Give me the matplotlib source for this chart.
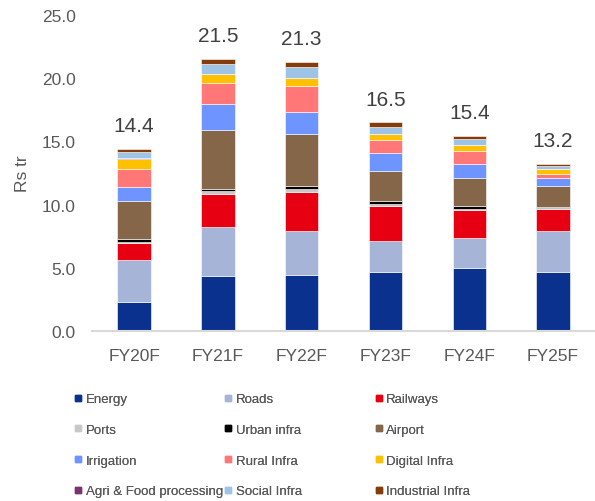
import matplotlib.pyplot as plt
import numpy as np
from matplotlib.lines import Line2D

plt.rcParams['font.family'] = ['Liberation Sans', 'DejaVu Sans']

# Investment by sector, Rs tr
years = ['FY20F', 'FY21F', 'FY22F', 'FY23F', 'FY24F', 'FY25F']
sectors = ['Energy', 'Roads', 'Railways', 'Ports', 'Urban infra', 'Airport',
           'Irrigation', 'Rural Infra', 'Digital Infra',
           'Agri & Food processing', 'Social Infra', 'Industrial Infra']

energy = [2.30, 4.35, 4.40, 4.65, 4.95, 4.65]
roads = [3.30, 3.85, 3.55, 2.50, 2.42, 3.30]
railways = [1.35, 2.65, 3.08, 2.77, 2.20, 1.68]
ports = [0.13, 0.20, 0.20, 0.12, 0.10, 0.13]
urban = [0.20, 0.18, 0.25, 0.24, 0.21, 0.03]
airport = [3.00, 4.65, 4.07, 2.35, 2.20, 1.65]
irrigation = [1.15, 2.05, 1.80, 1.42, 1.12, 0.68]
rural = [1.40, 1.70, 2.05, 1.08, 1.08, 0.27]
digital = [0.80, 0.67, 0.58, 0.43, 0.40, 0.40]
agri = [0.04, 0.05, 0.05, 0.04, 0.04, 0.03]
social = [0.53, 0.75, 0.82, 0.55, 0.44, 0.23]
industrial = [0.20, 0.40, 0.45, 0.35, 0.24, 0.15]

series = [energy, roads, railways, ports, urban, airport,
          irrigation, rural, digital, agri, social, industrial]
colors = ['#0B318F', '#A6B4D8', '#E60012', '#C8C8C8', '#000000', '#866649',
          '#6D94FF', '#FF7777', '#FFC000', '#7B3270', '#9DC3E6', '#843C0C']

fig = plt.figure(figsize=(5.95, 5.02), dpi=100)
ax = fig.add_axes([0.155, 0.3386, 0.845, 0.6295])

x = np.arange(len(years))
bottom = np.zeros(len(years))
for vals, c in zip(series, colors):
    vals = np.array(vals)
    ax.bar(x, vals, 0.4, bottom=bottom, color=c, edgecolor='white', linewidth=0.4)
    bottom += vals

# totals above each bar
for xi, tot in zip(x, bottom):
    ax.annotate(f'{tot:.1f}', (xi, tot), xytext=(0, 10), textcoords='offset points',
                ha='center', va='bottom', fontsize=15, color='#404040')

ax.set_xlim(-0.5, 5.5)
ax.set_ylim(0, 25)
ax.set_yticks(np.arange(0, 26, 5))
ax.set_yticklabels([f'{v:.1f}' for v in np.arange(0, 26, 5)])
ax.set_xticks(x)
ax.set_xticklabels(years)
ax.tick_params(length=0, labelsize=12.5, labelcolor='#595959')
ax.tick_params(axis='x', pad=12)
ax.tick_params(axis='y', pad=12)
for s in ['top', 'right', 'left']:
    ax.spines[s].set_visible(False)
ax.spines['bottom'].set_color('#D9D9D9')
ax.spines['bottom'].set_linewidth(1.5)
ax.set_ylabel('Rs tr', fontsize=12.5, color='#595959', labelpad=8)

# legend: three columns, laid out row by row
handles = [Line2D([], [], marker='s', linestyle='none', markersize=5,
                  markerfacecolor=c, markeredgecolor=c) for c in colors]
col_x = [0.125, 0.377, 0.63]
for j in range(3):
    idx = [j, j + 3, j + 6, j + 9]
    leg = fig.legend([handles[i] for i in idx], [sectors[i] for i in idx],
                     loc='upper left', bbox_to_anchor=(col_x[j], 0.215),
                     frameon=False, fontsize=9.5, labelcolor='#595959',
                     handlelength=0.6, handletextpad=0.25, labelspacing=1.4,
                     borderaxespad=0, borderpad=0)
    fig.add_artist(leg)

fig.savefig('out.png', dpi=100)
